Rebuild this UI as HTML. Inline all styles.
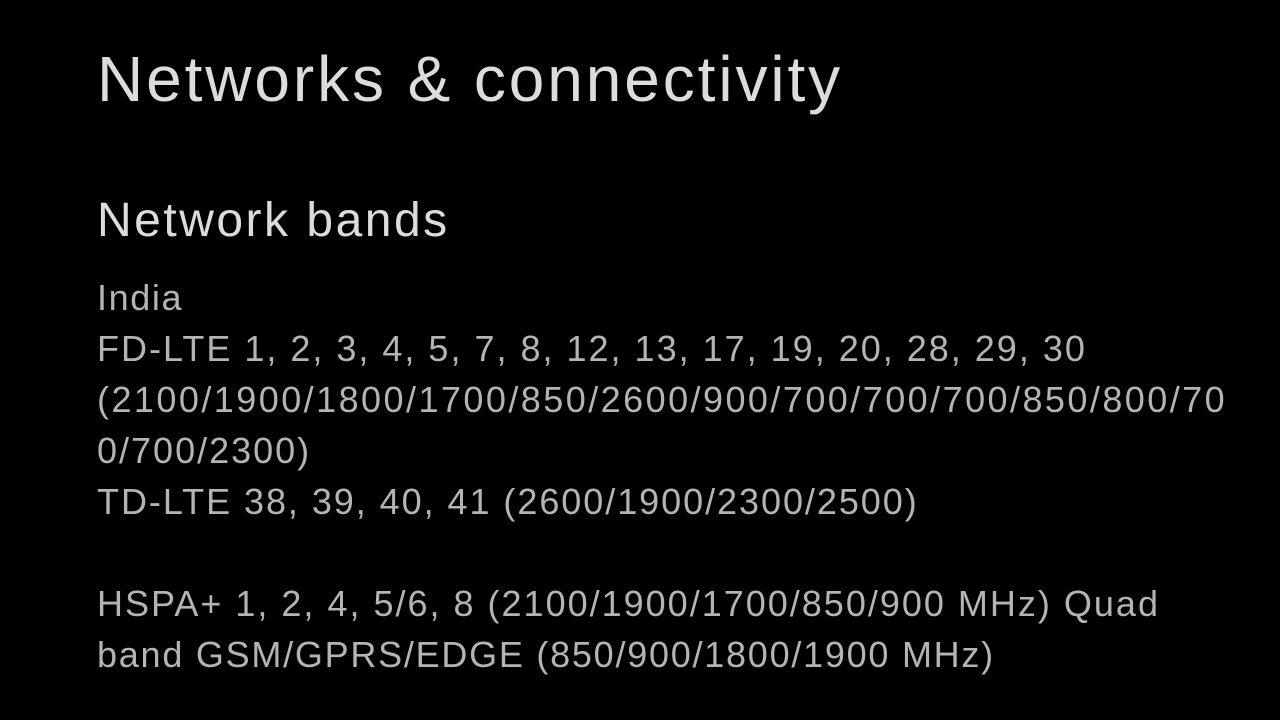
<!DOCTYPE html>
<html><head><meta charset="utf-8"><style>
html,body{margin:0;padding:0;background:#000;width:1280px;height:720px;overflow:hidden}
div{position:absolute;left:97px;white-space:nowrap;line-height:1;font-family:"Liberation Sans",sans-serif}
.t{font-size:64px;color:#dcdcdc;top:47px;letter-spacing:2.9px}
.s{font-size:48px;color:#dcdcdc;top:197px;letter-spacing:2.5px}
.b{font-size:36px;color:#b4b4b4;letter-spacing:2px}
</style></head><body>
<div class="t">Networks &amp; connectivity</div>
<div class="s">Network bands</div>
<div class="b" style="top:280px;letter-spacing:1.6px">India</div>
<div class="b" style="top:331px">FD-LTE 1, 2, 3, 4, 5, 7, 8, 12, 13, 17, 19, 20, 28, 29, 30</div>
<div class="b" style="top:382px;letter-spacing:2.45px">(2100/1900/1800/1700/850/2600/900/700/700/700/850/800/70</div>
<div class="b" style="top:433px">0/700/2300)</div>
<div class="b" style="top:484px;letter-spacing:1.95px">TD-LTE 38, 39, 40, 41 (2600/1900/2300/2500)</div>
<div class="b" style="top:586px;letter-spacing:2px">HSPA+ 1, 2, 4, 5/6, 8 (2100/1900/1700/850/900 MHz) Quad</div>
<div class="b" style="top:637px;letter-spacing:1.75px">band GSM/GPRS/EDGE (850/900/1800/1900 MHz)</div>
</body></html>
